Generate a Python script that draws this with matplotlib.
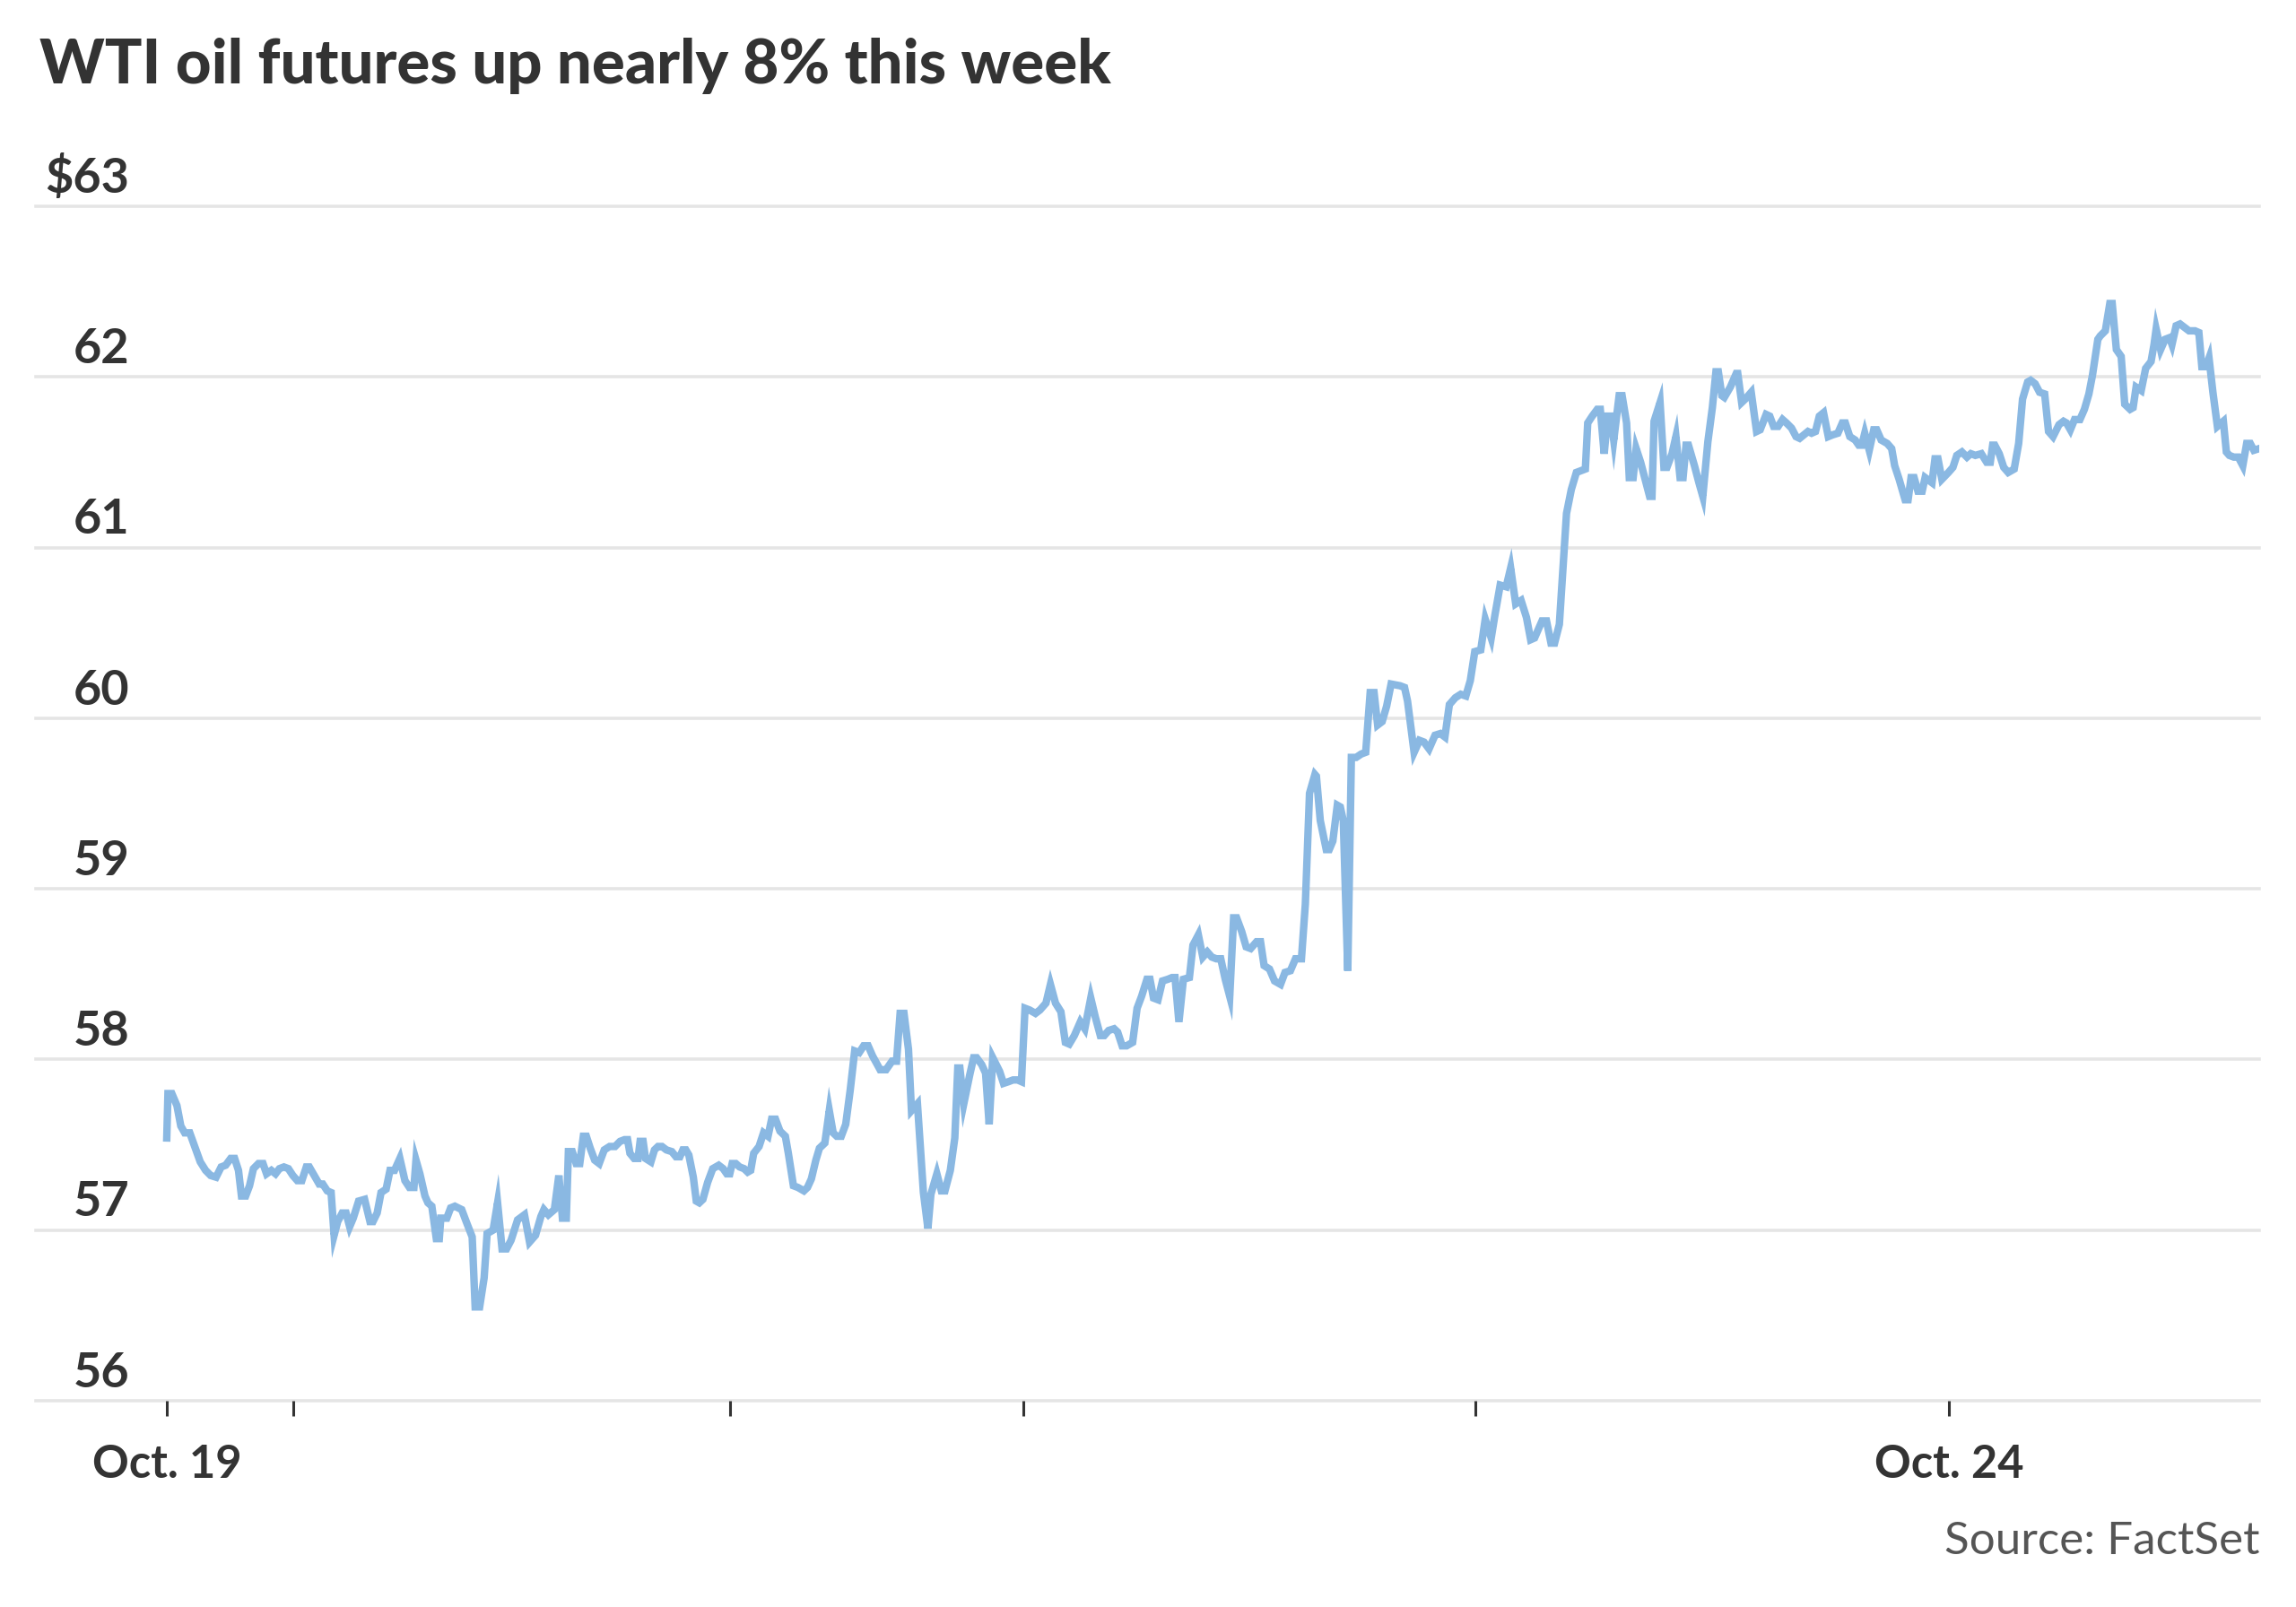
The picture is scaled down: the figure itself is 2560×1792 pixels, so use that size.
import matplotlib
matplotlib.use('Agg')
import matplotlib.pyplot as plt
from matplotlib.transforms import blended_transform_factory

plt.rcParams['font.family'] = ['Lato', 'DejaVu Sans']

# hours since the Oct. 19 tick, WTI futures price ($)
hours = [
    0.00, 0.08, 0.34, 0.68, 0.94, 1.20, 1.54, 2.24, 2.60, 2.94, 3.30, 3.64, 3.94, 4.28, 4.54, 4.80,
    5.00, 5.28, 5.54, 5.80, 6.14, 6.44, 6.68, 7.00, 7.28, 7.54, 7.84, 8.14, 8.44, 8.74, 9.04, 9.34,
    9.54, 9.94, 10.20, 10.44, 10.74, 11.00, 11.20, 11.44, 11.74, 12.00, 12.24, 12.48, 12.84, 13.24,
    13.60, 13.80, 14.08, 14.34, 14.68, 14.94, 15.24, 15.60, 15.94, 16.24, 16.54, 16.68, 16.94, 17.28,
    17.48, 17.74, 18.04, 18.24, 18.34, 18.74, 19.00, 19.28, 19.74, 20.04, 20.44, 20.64, 20.94, 21.24,
    21.44, 21.84, 22.14, 22.44, 22.74, 23.04, 23.48, 23.94, 24.28, 24.68, 25.04, 25.24, 25.54, 25.94,
    26.24, 26.48, 26.74, 26.88, 27.14, 27.40, 27.64,
    27.88, 28.08, 28.34, 28.64, 28.94, 29.28, 29.64, 30.00, 30.34, 30.64, 30.84, 31.00, 31.28, 31.54,
    31.68, 31.88, 32.04, 32.40, 32.64, 32.88, 33.14, 33.44, 33.80, 34.08, 34.34, 34.54, 34.74, 34.94,
    35.24, 35.44, 35.64, 35.88, 36.20, 36.54, 36.94, 37.24, 37.48, 37.68, 37.84, 38.08, 38.34, 38.64,
    38.88, 39.08, 39.28, 39.64, 39.94, 40.24, 40.48, 40.74, 41.04, 41.40, 41.60, 41.94, 42.24, 42.64,
    42.88, 43.14, 43.44, 43.68, 44.04, 44.34, 44.60, 44.84, 45.14, 45.44, 45.74, 46.04, 46.34, 46.64,
    46.94, 47.24, 47.74, 48.14, 48.54, 48.84, 49.08, 49.34, 49.64, 49.84, 50.24, 50.44, 50.64, 50.94,
    51.14, 51.54, 51.84, 52.08, 52.44, 52.74, 52.94, 53.08, 53.34, 53.74, 54.00, 54.20, 54.54, 54.80,
    55.04, 55.28,
    55.74, 56.00, 56.34, 56.64, 56.94, 57.20, 57.44, 57.74, 58.14, 58.44, 58.84, 59.14, 59.48, 59.84,
    60.14, 60.40, 60.74, 61.14, 61.44, 61.84, 62.14, 62.48, 62.74, 63.04, 63.40, 63.64, 63.94, 64.24,
    64.64, 64.94, 65.24, 65.60, 65.80, 66.04, 66.34, 66.64, 67.00, 67.28, 67.48, 67.74, 68.04, 68.44,
    68.68, 69.04, 69.34, 69.64, 69.94, 70.24, 70.54, 70.84, 71.14, 71.40, 71.60, 71.94, 72.24, 72.54,
    72.94, 73.20, 73.44, 73.80, 74.14, 74.54, 74.84, 75.20, 75.54, 75.94, 76.20, 76.48, 76.84, 76.94,
    77.20, 77.60, 77.80, 78.04, 78.34, 78.54, 78.74, 79.04, 79.28, 79.60, 79.94, 80.24, 80.54, 80.80,
    81.04, 81.34, 81.64, 81.94, 82.54, 82.84,
    83.04, 83.48, 83.84, 84.14, 84.48, 84.88, 85.24, 85.54, 85.84, 86.24, 86.60, 86.94, 87.24, 87.54,
    87.94, 88.24, 88.64, 88.88, 89.24, 89.64, 89.94, 90.28, 90.64, 91.00, 91.28, 91.54, 92.04, 92.34,
    92.64, 92.88, 93.20, 93.40, 93.68, 94.00, 94.34, 94.64, 94.94, 95.10, 95.40, 95.74, 95.94, 96.20,
    96.44, 96.64, 96.84, 97.20, 97.40, 97.70, 97.88, 98.14, 98.34, 98.64, 98.94, 99.24, 99.40, 99.54,
    99.94, 100.20, 100.40, 100.74, 101.00, 101.28, 101.48, 101.68, 101.84, 102.24, 102.54, 102.80,
    103.14, 103.44, 103.68, 103.84, 104.08, 104.24, 104.64, 105.04, 105.14, 105.40, 105.64, 106.04,
    106.40, 106.64, 107.04, 107.28, 107.54, 107.84, 108.14, 108.40, 108.74, 109.04, 109.28, 109.84,
    110.08, 110.34, 110.60, 110.88, 111.20, 111.48,
    111.84, 112.14, 112.34, 112.64, 113.00, 113.24, 113.44, 113.64, 113.94, 114.24, 114.44, 114.74,
    115.14, 115.44, 115.64, 115.94, 116.34, 116.54, 116.74, 116.94, 117.20, 117.48, 117.68, 118.14,
    118.34, 118.54, 118.80, 119.24, 119.54, 119.80, 120.14, 120.48, 120.74, 121.04, 121.44, 121.80,
    122.04, 122.20, 122.34, 122.64, 122.94, 123.24, 123.64, 123.94, 124.20, 124.54, 124.74, 125.04,
    125.34, 125.68, 125.94, 126.24, 126.64, 126.94, 127.14, 127.40, 127.68, 128.04, 128.34, 128.64,
    128.88, 129.24, 129.40, 129.74, 130.04, 130.20, 130.48, 130.80, 131.04, 131.40, 131.60, 131.80,
    132.14, 132.44, 132.80, 133.00, 133.14, 133.44, 133.74, 134.04, 134.20, 134.48, 134.74, 135.04,
    135.34, 135.74, 136.00, 136.20, 136.48, 136.68, 136.94, 137.24, 137.64, 137.84, 138.04, 138.34,
    138.64, 138.94, 139.20, 139.44, 139.68, 140.04,
]
price = [
    57.54, 57.80, 57.80, 57.73, 57.61, 57.57, 57.57, 57.40, 57.35, 57.32, 57.31, 57.37, 57.38, 57.42, 57.42, 57.35,
    57.20, 57.20, 57.26, 57.36, 57.39, 57.39, 57.33, 57.35, 57.33, 57.36, 57.37, 57.36, 57.32, 57.29, 57.29, 57.37,
    57.37, 57.31, 57.27, 57.27, 57.23, 57.22, 56.97, 57.05, 57.10, 57.10, 57.02, 57.07, 57.17, 57.18,
    57.05, 57.05, 57.10, 57.22, 57.24, 57.35, 57.35, 57.42, 57.29, 57.25, 57.25, 57.41, 57.33, 57.20,
    57.16, 57.14, 56.95, 56.95, 57.07, 57.07, 57.13, 57.14, 57.12, 57.05, 56.96, 56.55, 56.55, 56.72,
    56.98, 57.00, 57.16, 56.89, 56.89, 56.94, 57.06, 57.09, 56.93, 56.97, 57.08, 57.12, 57.09, 57.12,
    57.32, 57.07, 57.07, 57.46, 57.46, 57.39, 57.39,
    57.55, 57.55, 57.48, 57.41, 57.39, 57.47, 57.49, 57.49, 57.52, 57.53, 57.53, 57.45, 57.42, 57.42,
    57.52, 57.52, 57.42, 57.40, 57.47, 57.49, 57.49, 57.47, 57.46, 57.43, 57.43, 57.47, 57.47, 57.44,
    57.31, 57.17, 57.16, 57.18, 57.28, 57.36, 57.38, 57.36, 57.33, 57.33, 57.39, 57.39, 57.37, 57.36,
    57.34, 57.35, 57.45, 57.49, 57.57, 57.55, 57.65, 57.65, 57.58, 57.55, 57.45, 57.26, 57.25, 57.23,
    57.25, 57.30, 57.41, 57.48, 57.51, 57.70, 57.57, 57.55, 57.55, 57.62, 57.82, 58.05, 58.04, 58.08,
    58.08, 58.02, 57.94, 57.94, 57.99, 57.99, 58.27, 58.27, 58.06, 57.70, 57.74, 57.48, 57.22, 57.01,
    57.21, 57.33, 57.23, 57.23, 57.35, 57.54, 57.95, 57.95, 57.74, 57.91, 58.01, 58.01, 57.97, 57.92,
    57.62, 58.01,
    57.93, 57.86, 57.87, 57.88, 57.88, 57.87, 58.30, 58.29, 58.27, 58.29, 58.33, 58.44, 58.33, 58.28,
    58.10, 58.09, 58.14, 58.22, 58.18, 58.36, 58.25, 58.14, 58.14, 58.17, 58.18, 58.16, 58.08, 58.08,
    58.10, 58.30, 58.37, 58.47, 58.47, 58.36, 58.35, 58.46, 58.47, 58.48, 58.48, 58.22, 58.47, 58.48,
    58.67, 58.73, 58.60, 58.63, 58.60, 58.59, 58.59, 58.47, 58.37, 58.83, 58.83, 58.75, 58.66, 58.65,
    58.69, 58.69, 58.55, 58.53, 58.46, 58.44, 58.51, 58.52, 58.59, 58.59, 58.91, 59.56, 59.67, 59.66,
    59.40, 59.23, 59.23, 59.28, 59.49, 59.48, 59.40, 58.52, 59.77, 59.77, 59.79, 59.80, 60.15, 60.15,
    59.96, 59.98, 60.07, 60.20, 60.19, 60.18,
    60.10, 59.80, 59.87, 59.86, 59.82, 59.90, 59.91, 59.89, 60.08, 60.12, 60.14, 60.13, 60.22, 60.39,
    60.40, 60.58, 60.47, 60.60, 60.78, 60.77, 60.88, 60.67, 60.69, 60.59, 60.46, 60.47, 60.57, 60.57,
    60.44, 60.44, 60.55, 60.82, 61.20, 61.34, 61.44, 61.45, 61.46, 61.73, 61.77, 61.81, 61.81, 61.55,
    61.77, 61.77, 61.63, 61.89, 61.89, 61.73, 61.41, 61.41, 61.58, 61.50, 61.40, 61.30, 61.30, 61.74,
    61.85, 61.47, 61.47, 61.55, 61.65, 61.41, 61.41, 61.60, 61.60, 61.48, 61.38, 61.30,
    61.62, 61.82, 62.03, 62.03, 61.89, 61.88, 61.94, 62.02, 62.02, 61.85, 61.87, 61.91,
    61.68, 61.69, 61.78, 61.77, 61.71, 61.71, 61.75, 61.73, 61.70, 61.65, 61.64, 61.68,
    61.67, 61.68, 61.77, 61.79, 61.65, 61.66,
    61.67, 61.73, 61.73, 61.65, 61.63, 61.60, 61.60, 61.67, 61.57, 61.69, 61.69, 61.63,
    61.61, 61.58, 61.48, 61.40, 61.28, 61.28, 61.41, 61.41, 61.33, 61.33, 61.41, 61.38,
    61.52, 61.52, 61.40, 61.44, 61.47, 61.54, 61.56, 61.53, 61.55, 61.54, 61.55, 61.50,
    61.50, 61.60, 61.60, 61.55, 61.47, 61.44, 61.46, 61.61, 61.87, 61.97, 61.98, 61.96,
    61.91, 61.90, 61.68, 61.65, 61.72, 61.74, 61.73, 61.69, 61.75, 61.75, 61.81, 61.90,
    62.01, 62.22, 62.24, 62.27, 62.43, 62.43, 62.16, 62.12, 61.84, 61.81, 61.82, 61.94,
    61.92, 62.05, 62.09, 62.19, 62.28, 62.16, 62.22, 62.23, 62.19, 62.30, 62.31, 62.29,
    62.27, 62.27, 62.26, 62.06, 62.06, 62.11, 61.91, 61.71, 61.74, 61.56, 61.54, 61.53,
    61.53, 61.48, 61.61, 61.61, 61.57, 61.58,
]

y_ticks = [56, 57, 58, 59, 60, 61, 62, 63]
y_labels = ['56', '57', '58', '59', '60', '61', '62', '$63']
x_ticks = [0.0, 8.46, 37.68, 57.30, 87.60, 119.28]
x_labels = ['Oct. 19', '', '', '', '', 'Oct. 24']

DARK = '#333333'
GRID = '#e5e5e5'
LINE = '#8ab8e2'

fig = plt.figure(figsize=(12.8, 8.96), dpi=200)
ax = fig.add_axes([40 / 2560, 1 - 1562 / 1792, 2479 / 2560, (1562 - 230) / 1792])

ax.plot(hours, price, color=LINE, lw=3.0, solid_joinstyle='miter', zorder=3)

ax.set_xlim(-8.76, hours[-1])
ax.set_ylim(56, 63)

for v in y_ticks:
    ax.axhline(v, color=GRID, lw=1.3, zorder=1, clip_on=False)

trans = blended_transform_factory(ax.transAxes, ax.transData)
for v, lab in zip(y_ticks, y_labels):
    ax.annotate(lab, xy=(104 / 2479, v), xycoords=trans, xytext=(0, 5.5),
                textcoords='offset points', ha='right', va='baseline',
                fontsize=19.5, fontweight='bold', color=DARK)

for s in ax.spines.values():
    s.set_visible(False)
ax.set_yticks([])
ax.set_xticks(x_ticks)
ax.set_xticklabels(x_labels, fontsize=18.2, fontweight='bold', color=DARK)
ax.tick_params(axis='x', length=6.1, width=1.1, color=DARK, pad=11)

fig.text(44 / 2560, 1 - 93 / 1792, 'WTI oil futures up nearly 8% this week',
         fontsize=24.8, fontweight='black', color=DARK, ha='left', va='baseline')
fig.text(2519 / 2560, 1 - 1733 / 1792, 'Source: FactSet',
         fontsize=18.4, color='#555555', ha='right', va='baseline')

fig.savefig('out.png', dpi=200, facecolor='white')
